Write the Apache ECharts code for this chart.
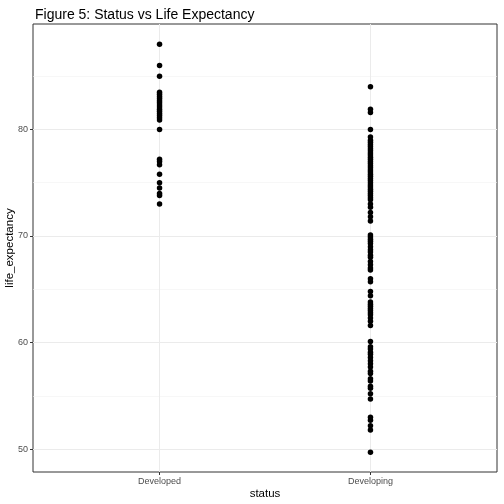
<!DOCTYPE html>
<html>
<head>
<meta charset="utf-8">
<script src="https://cdn.jsdelivr.net/npm/echarts@6/dist/echarts.min.js"></script>
<style>
  html, body { margin: 0; padding: 0; background: #fff; }
  #main { width: 504px; height: 504px; }
</style>
</head>
<body>
<div id="main"></div>
<script>
var categories = ['Developed', 'Developing'];

// life expectancy, one value per point
var developed = [
    88.0, 86.0, 85.0,
    83.5, 83.3, 83.1, 82.9, 82.7, 82.5, 82.3, 82.1, 81.9, 81.7, 81.5, 81.3, 81.1, 80.9,
    80.0,
    77.2, 77.0, 76.7, 75.8, 75.0, 74.5, 74.0, 73.8, 73.0
];
var developing = [
    84.0, 81.9, 81.6, 80.0, 79.3,
    79.0, 78.8, 78.6, 78.4, 78.2, 78.0, 77.8, 77.6, 77.4, 77.2, 77.0, 76.8, 76.6, 76.4,
    76.2, 76.0, 75.8, 75.6, 75.4, 75.2, 75.0, 74.8, 74.6, 74.4, 74.2, 74.0, 73.8, 73.6,
    73.4, 73.0, 72.7, 72.2, 71.8, 71.4,
    70.1, 69.9, 69.7, 69.5, 69.3, 69.0, 68.7, 68.5, 68.2, 68.0, 67.6, 67.3, 67.0, 66.8,
    66.0, 65.7, 64.8, 64.4,
    63.8, 63.6, 63.4, 63.2, 63.0, 62.8, 62.6, 62.3, 62.0, 61.6,
    60.1, 59.6, 59.4, 59.1, 58.9, 58.6, 58.3, 58.0, 57.7, 57.3, 57.1, 56.6, 56.4, 55.9,
    55.7, 55.2, 54.7,
    53.0, 52.7, 52.2, 51.8,
    49.7
];

var yTicks = [50, 60, 70, 80];
var yMinorTicks = [55, 65, 75, 85];
var xTicks = [1, 2];

var points = [];
developed.forEach(function(v){ points.push([1, v]); });
developing.forEach(function(v){ points.push([2, v]); });

var font = 'Liberation Sans, Arial, sans-serif';

var myChart = echarts.init(document.getElementById('main'));
var option = {
    animation: false,
    backgroundColor: '#fff',
    title: {
        text: 'Figure 5: Status vs Life Expectancy',
        left: 30,
        top: 3,
        textStyle: { fontFamily: font, fontSize: 14, fontWeight: 'normal', color: '#000' }
    },
    grid: {
        left: 33,
        right: 7,
        top: 24,
        bottom: 32,
        outerBoundsMode: 'none',
        containLabel: false,
        show: true,
        borderColor: '#333',
        borderWidth: 1,
        backgroundColor: 'transparent'
    },
    xAxis: {
        type: 'value',
        min: 0.4,
        max: 2.6,
        name: 'status',
        nameLocation: 'middle',
        nameGap: 16,
        nameMoveOverlap: false,
        nameTextStyle: { fontFamily: font, fontSize: 11.5, color: '#000' },
        axisLine: { show: false },
        axisTick: { show: true, length: 3, customValues: xTicks, lineStyle: { color: '#333' } },
        axisLabel: {
            customValues: xTicks,
            fontFamily: font, fontSize: 9, color: '#4d4d4d', margin: 5,
            formatter: function(v){ return categories[Math.round(v) - 1] || ''; }
        },
        splitLine: { show: true, lineStyle: { color: '#ebebeb', width: 1 } }
    },
    yAxis: [{
        type: 'value',
        min: 47.85,
        max: 89.9,
        name: 'life_expectancy',
        nameLocation: 'middle',
        nameGap: 17,
        nameMoveOverlap: false,
        nameTextStyle: { fontFamily: font, fontSize: 11.5, color: '#000' },
        axisLine: { show: false },
        axisTick: { show: true, length: 3, customValues: yTicks, lineStyle: { color: '#333' } },
        axisLabel: { customValues: yTicks, fontFamily: font, fontSize: 9, color: '#4d4d4d', margin: 5 },
        splitLine: { show: true, lineStyle: { color: '#ebebeb', width: 1 } }
    }, {
        type: 'value',
        position: 'left',
        min: 47.85,
        max: 89.9,
        axisLine: { show: false },
        axisTick: { show: false, customValues: yMinorTicks },
        axisLabel: { show: false, customValues: yMinorTicks },
        splitLine: { show: true, lineStyle: { color: '#f2f2f2', width: 0.6 } }
    }],
    series: [{
        type: 'scatter',
        data: points,
        symbol: 'circle',
        symbolSize: 5.5,
        itemStyle: { color: '#000', opacity: 1 },
        z: 5
    }]
};
myChart.setOption(option);
</script>
</body>
</html>
